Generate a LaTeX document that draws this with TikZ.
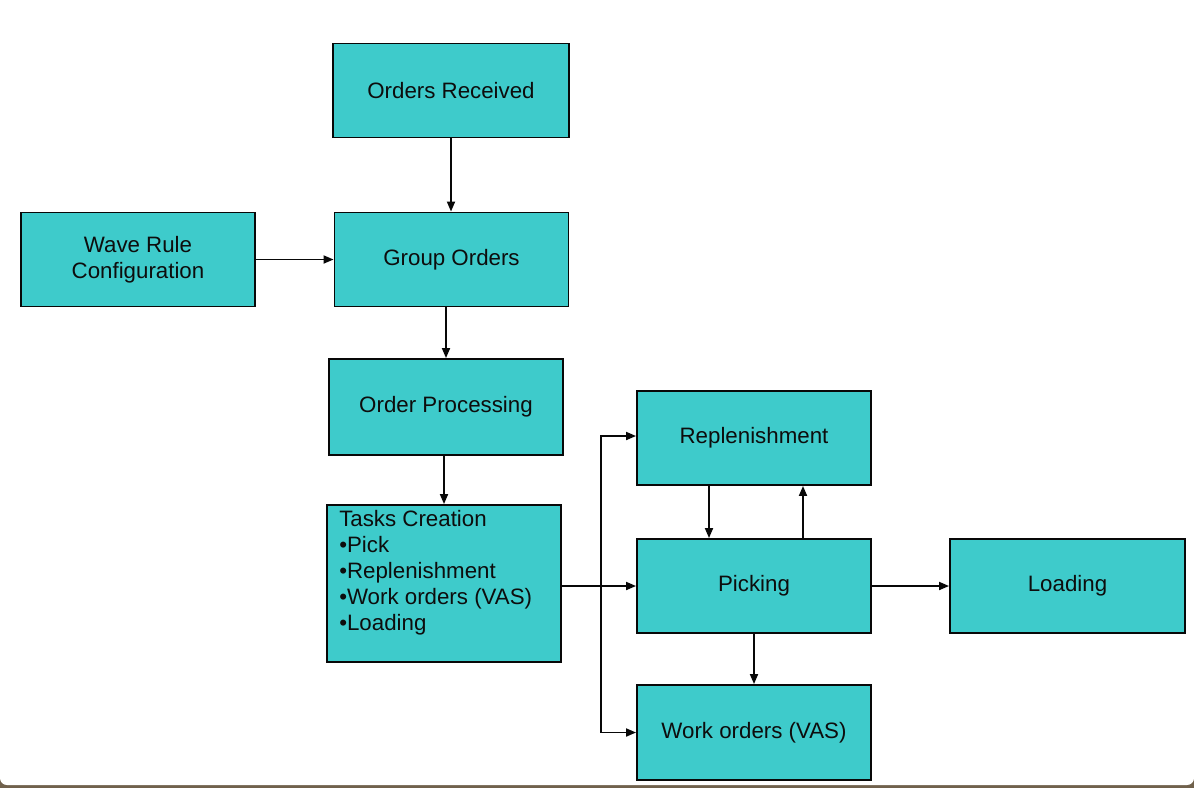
\documentclass[tikz,border=0pt]{standalone}
\usepackage{fontspec}
\setmainfont{Liberation Sans}
\usetikzlibrary{arrows.meta,positioning}

\definecolor{boxfill}{RGB}{62,203,203}
\definecolor{edge}{RGB}{8,8,8}
\definecolor{frame}{RGB}{112,97,76}

\tikzset{
  stage/.style={draw=edge, line width=1.9pt, fill=boxfill,
    minimum width=234pt, minimum height=94pt, align=center,
    font=\fontsize{22.3}{26}\selectfont, text=black!95},
  flow/.style={draw=edge, line width=1.8pt, -{Triangle[length=10pt,width=8pt]}}
}

\begin{document}
\begin{tikzpicture}[x=1pt,y=-1pt]
\useasboundingbox (0,0) rectangle (1194,788);
\fill[frame] (0,0) rectangle (1194,788);
\fill[white, rounded corners=7pt] (0,-20) rectangle (1194,785);

\node[stage, minimum width=236pt] (received) at (451,90.5) {Orders Received};
\node[stage] (group) at (451.5,259.5) {Group Orders};
\node[stage] (wave) at (138,259.5) {Wave Rule\\Configuration};
\node[stage, minimum height=96pt] (process) at (446,407) {Order Processing};
\node[stage, minimum height=157pt] (tasks) at (444,583.5) {};
\node[anchor=north west, align=left, inner sep=0pt,
  font=\fontsize{22.3}{26}\selectfont, text=black!95] (tasklist)
  at ([xshift=13pt,yshift=-6.5pt]tasks.north west)
  {Tasks Creation\\•Pick\\•Replenishment\\•Work orders (VAS)\\•Loading};
\node[stage] (repl) at (754,438) {Replenishment};
\node[stage] (picking) at (754,586) {Picking};
\node[stage, minimum width=235pt] (loading) at (1067.5,586) {Loading};
\node[stage, minimum height=95pt] (work) at (754,732.5) {Work orders (VAS)};

% connectors
\coordinate (split) at (601,586);
\draw[flow] (received.south) -- (received.south |- group.north);
\draw[flow] (wave) -- (group);
\draw[flow] (process.north |- group.south) -- (process.north);
\draw[flow] (tasks.north |- process.south) -- (tasks.north);
\draw[flow] (tasks.east |- picking) -- (picking.west);
\draw[flow] (split) |- ([yshift=2pt]repl.west);
\draw[flow] (split) |- (work.west);
\draw[flow] ([xshift=-45pt]repl.south) -- ([xshift=-45pt]picking.north);
\draw[flow] ([xshift=49pt]picking.north) -- ([xshift=49pt]repl.south);
\draw[flow] (picking) -- (loading);
\draw[flow] (picking) -- (work);
\end{tikzpicture}
\end{document}
